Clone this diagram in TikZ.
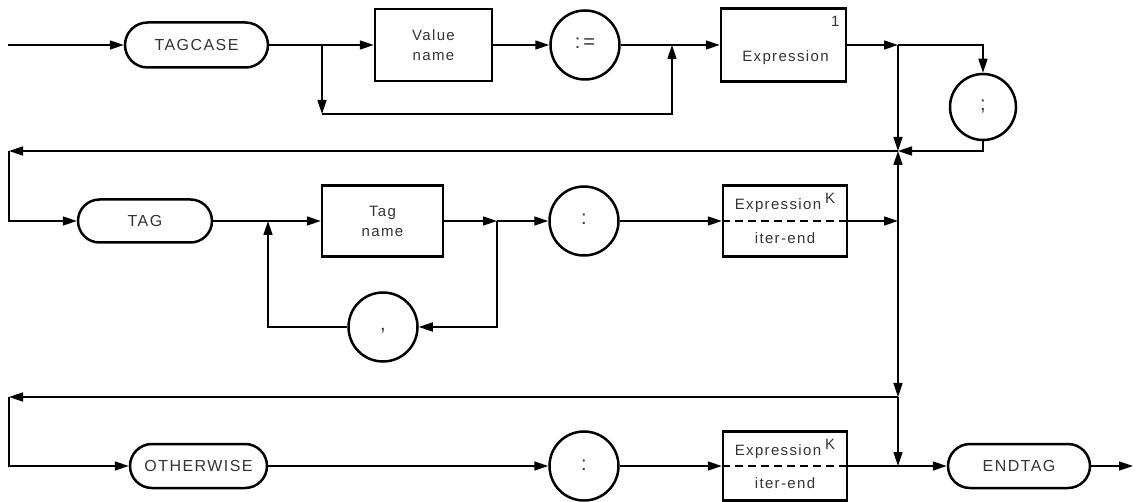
\documentclass[tikz,border=0pt]{standalone}
\usepackage{fontspec}
\setmainfont{Liberation Sans}[LetterSpace=9]
\usetikzlibrary{arrows.meta,shapes.misc,calc}
\tikzset{
  box/.style={draw, line width=2.5pt, rectangle, inner sep=0pt, text=black!80,
    align=center, font=\fontsize{15}{20}\selectfont},
  kw/.style={draw, line width=2.5pt, rounded rectangle, inner sep=0pt, text=black!80,
    font=\fontsize{16}{19}\selectfont},
  circ/.style={draw, line width=2.5pt, circle, inner sep=0pt, minimum size=69pt,
    text height=12pt, text depth=4pt, text=black!80, font=\fontsize{20}{24}\selectfont},
  lbl/.style={inner sep=0pt, anchor=base, text=black!80, font=\fontsize{15}{18}\selectfont},
  conn/.style={line width=1.6pt},
  arr/.style={conn, -{Triangle[length=14pt,width=9pt]}},
  sep/.style={line width=1.6pt, dash pattern=on 8pt off 5pt},
}
\begin{document}
\begin{tikzpicture}[x=1pt,y=-1pt]
\useasboundingbox (0,0) rectangle (1135,502);
% nodes
\node[kw, minimum width=143pt, minimum height=45pt] (tagcase) at (196.5,45) {TAGCASE};
\node[box, minimum width=117pt, minimum height=72pt] (valname) at (433.5,45) {Value\\name};
\node[circ] (assign) at (585,45) {:\kern3pt=};
\node[box, minimum width=125pt, minimum height=73pt] (exp1) at (783.5,45) {};
\node[lbl] (exp1t) at ($(exp1.center)+(2,17)$) {Expression};
\node[lbl] (exp1s) at ($(exp1.north east)+(-12,19)$) {1};
\node[circ, minimum size=66pt] (semi) at (983,107) {;};

\node[kw, minimum width=134pt, minimum height=43pt] (tag) at (145,221) {TAG};
\node[box, minimum width=121pt, minimum height=71pt] (tagname) at (382.5,221) {Tag\\name};
\node[circ] (comma) at (383,327) {,};
\node[circ] (colon1) at (584,221) {:};
\node[box, minimum width=124pt, minimum height=71pt] (expk1) at (785,221) {};
\draw[sep] (expk1.west) -- (expk1.east);
\node[lbl] (expk1t) at ($(expk1.center)+(0,-11)$) {Expression\kern4pt\raisebox{6pt}{K}};
\node[lbl] (expk1b) at ($(expk1.center)+(0,23)$) {iter-end};

\node[kw, minimum width=137pt, minimum height=44pt] (otherwise) at (198.5,466) {OTHERWISE};
\node[circ] (colon2) at (584,466) {:};
\node[box, minimum width=124pt, minimum height=69pt] (expk2) at (785,466) {};
\draw[sep] (expk2.west) -- (expk2.east);
\node[lbl] (expk2t) at ($(expk2.center)+(0,-11)$) {Expression\kern4pt\raisebox{6pt}{K}};
\node[lbl] (expk2b) at ($(expk2.center)+(0,22)$) {iter-end};
\node[kw, minimum width=142pt, minimum height=44pt] (endtag) at (1019,466) {ENDTAG};

% coordinates
\coordinate (start) at (8,45);
\coordinate (b1) at (322,45);
\coordinate (b1d) at (322,114);
\coordinate (b1r) at (672,114);
\coordinate (m1) at (672,45);
\coordinate (j0) at (898,45);
\coordinate (s0) at (983,45);
\coordinate (j1) at (898,151);
\coordinate (s1) at (983,151);
\coordinate (l1) at (9,151);
\coordinate (l1d) at (9,221);
\coordinate (b2) at (268,221);
\coordinate (b2d) at (268,327);
\coordinate (b3) at (497,221);
\coordinate (b3d) at (497,327);
\coordinate (j2) at (898,221);
\coordinate (j3) at (898,397);
\coordinate (l3) at (9,397);
\coordinate (l3d) at (9,466);
\coordinate (j4) at (898,466);
\coordinate (fin) at (1133,466);

% row 1
\draw[arr] (start) -- (tagcase.west);
\draw[arr] (tagcase.east) -- (valname.west);
\draw[arr] (b1) -- (b1d);
\draw[arr] (b1d) -- (b1r) -- (m1);
\draw[arr] (valname.east) -- (assign.west);
\draw[arr] (assign.east) -- (exp1.west);
\draw[arr] (exp1.east) -- (j0);
\draw[arr] (j0) -- (s0) -- (semi.north);
\draw[arr] (j0) -- (j1);
\draw[arr] (semi.south) -- (s1) -- (j1);
\draw[arr] (j1) -- (l1);
\draw[arr] (l1) -- (l1d) -- (tag.west);
% row 2
\draw[arr] (tag.east) -- (tagname.west);
\draw[arr] (tagname.east) -- (b3);
\draw[arr] (b3) -- (colon1.west);
\draw[arr] (b3) -- (b3d) -- (comma.east);
\draw[arr] (comma.west) -- (b2d) -- (b2);
\draw[arr] (colon1.east) -- (expk1.west);
\draw[arr] (expk1.east) -- (j2);
\draw[arr] (j2) -- (j1);
\draw[arr] (j2) -- (j3);
\draw[arr] (j3) -- (l3);
\draw[arr] (l3) -- (l3d) -- (otherwise.west);
\draw[arr] (j3) -- (j4);
% row 3
\draw[arr] (otherwise.east) -- (colon2.west);
\draw[arr] (colon2.east) -- (expk2.west);
\draw[conn] (expk2.east) -- (j4);
\draw[arr] (j4) -- (endtag.west);
\draw[arr] (endtag.east) -- (fin);
\end{tikzpicture}
\end{document}
